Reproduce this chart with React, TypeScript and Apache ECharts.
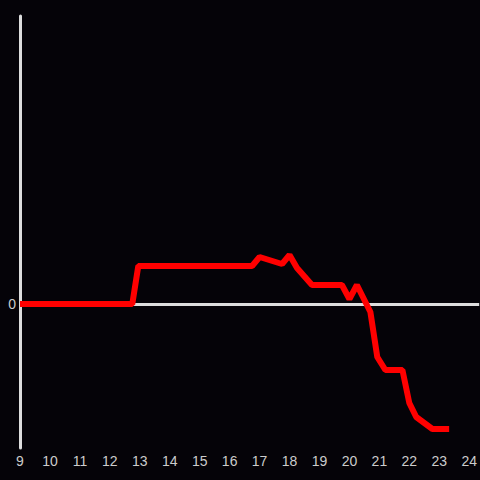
import React, { useEffect, useRef } from "react";
import * as echarts from "echarts";

const hours = [9.0, 12.75, 12.95, 16.75, 17.0, 17.75, 18.0, 18.25, 18.75, 19.75, 20.0, 20.25, 20.7, 20.93, 21.2, 21.77, 22.0, 22.23, 22.77, 23.33];
const values = [0, 0, 38, 38, 47, 40, 49, 36, 19, 19, 5, 19, -8, -53, -66, -66, -99, -113, -125, -125];

export default function App() {
  const ref = useRef<HTMLDivElement>(null);
  useEffect(() => {
    const chart = echarts.init(ref.current!, undefined, { renderer: "svg" });
    chart.setOption({
      animation: false,
      backgroundColor: "#050308",
      textStyle: { fontFamily: "Liberation Sans" },
      grid: { left: 20, right: 0, top: 16, bottom: 32 },
      xAxis: {
        type: "value",
        min: 9,
        max: 24.333,
        interval: 1,
        axisLine: { show: false, onZero: false },
        axisTick: { show: false },
        splitLine: { show: false },
        axisLabel: { color: "#cccccc", fontSize: 14, fontFamily: "Liberation Sans", margin: 6, showMaxLabel: false },
      },
      yAxis: {
        type: "value",
        min: -144,
        max: 288,
        interval: 144,
        axisLine: { show: true, lineStyle: { color: "#dddddd", width: 3 } },
        axisTick: { show: false },
        splitLine: { show: false },
        axisLabel: {
          color: "#cccccc",
          fontSize: 14,
          fontFamily: "Liberation Sans",
          margin: 4,
          formatter: (v: number) => (v === 0 ? "0" : ""),
        },
      },
      series: [
        {
          type: "line",
          data: hours.map((h, i) => [h, values[i]]),
          showSymbol: false,
          symbol: "none",
          lineStyle: { color: "#ff0000", width: 6 },
          markLine: {
            silent: true,
            symbol: "none",
            label: { show: false },
            lineStyle: { color: "#dddddd", width: 3, type: "solid" },
            data: [{ yAxis: 0 }],
            z: 1,
          },
          z: 3,
        },
      ],
    });
    return () => chart.dispose();
  }, []);
  return <div ref={ref} style={{ width: 480, height: 480, position: "absolute", left: 0, top: 0 }} />;
}
